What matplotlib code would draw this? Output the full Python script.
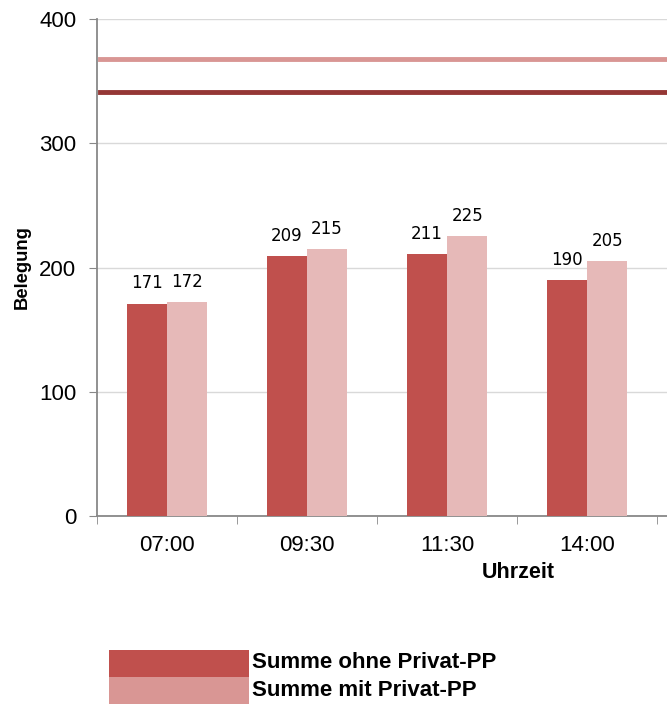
import matplotlib.pyplot as plt
from matplotlib.patches import Rectangle

# data
times = ['07:00', '09:30', '11:30', '14:00']
ohne_privat = [171, 209, 211, 190]
mit_privat = [172, 215, 225, 205]
kapazitaet_ohne = 341
kapazitaet_mit = 368
legend_labels = ['Summe ohne Privat-PP', 'Summe mit Privat-PP']

DARK = '#C0504D'
LIGHT_BAR = '#E6B9B8'
LIGHT = '#D99694'
DARK_LINE = '#953735'

plt.rcParams['font.family'] = ['Liberation Sans', 'DejaVu Sans']

W, H = 667, 708
fig = plt.figure(figsize=(W / 100, H / 100), dpi=100)
ax = fig.add_axes([97 / W, (H - 516) / H, (W - 97) / W, 497 / H])

w = 0.286
x = list(range(len(times)))
b1 = ax.bar([i - w / 2 for i in x], ohne_privat, width=w, color=DARK, zorder=3)
b2 = ax.bar([i + w / 2 for i in x], mit_privat, width=w, color=LIGHT_BAR, zorder=3)

for bars, vals in ((b1, ohne_privat), (b2, mit_privat)):
    for r, v in zip(bars, vals):
        ax.annotate(str(v), (r.get_x() + r.get_width() / 2, v), xytext=(0, 8),
                    textcoords='offset points', ha='center', va='bottom',
                    fontsize=12, family='DejaVu Sans')

ax.axhline(kapazitaet_mit, xmin=0.005, color=LIGHT, lw=3.5, zorder=4)
ax.axhline(kapazitaet_ohne, xmin=0.005, color=DARK_LINE, lw=3.5, zorder=4)

ax.set_ylim(0, 400)
ax.set_yticks([0, 100, 200, 300, 400])
ax.set_xlim(-0.5, 3.57)
ax.set_xticks(x)
ax.set_xticklabels(times)
ax.set_xticks([-0.5, 0.5, 1.5, 2.5, 3.5], minor=True)
ax.tick_params(axis='x', which='major', length=0, pad=14, labelsize=16)
ax.tick_params(axis='x', which='minor', length=6, color='#888888')
ax.tick_params(axis='y', length=6, color='#888888', labelsize=16, pad=9)

ax.grid(axis='y', color='#D9D9D9', lw=1, zorder=0)
for s in ('top', 'right'):
    ax.spines[s].set_visible(False)
for s in ('left', 'bottom'):
    ax.spines[s].set_color('#888888')
    ax.spines[s].set_linewidth(1.3)

fig.text(22 / W, 1 - 267 / H, 'Belegung', rotation=90, ha='center', va='center',
         fontsize=13.3, fontweight='bold')
fig.text(518 / W, 1 - 573 / H, 'Uhrzeit', ha='center', va='center',
         fontsize=15.5, fontweight='bold')

# legend
for k, (lab, col) in enumerate(zip(legend_labels, [DARK, LIGHT])):
    y0 = 650 + 27 * k
    fig.patches.append(Rectangle((109 / W, 1 - (y0 + 27) / H), 140 / W, 27 / H,
                                 transform=fig.transFigure, color=col, lw=0))
    fig.text(252 / W, 1 - (y0 + 13) / H, lab, ha='left', va='center',
             fontsize=16, fontweight='bold')

fig.savefig('out.png', dpi=100)
